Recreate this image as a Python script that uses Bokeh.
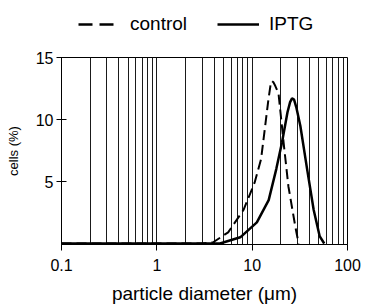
from bokeh.plotting import figure
from bokeh.layouts import column
from bokeh.models import Range1d, FixedTicker, Legend, LegendItem, ColumnDataSource
from bokeh.embed import file_html
from bokeh.resources import INLINE

# data
control_x = [0.1, 1, 3, 3.9, 5.6, 8.1, 10.6, 12.4, 13.7, 14.8, 15.6, 16.1, 16.7, 17.5, 18.9, 21.4, 24.0, 28.3, 30.7]
control_y = [0, 0, 0, 0.1, 0.9, 2.7, 4.9, 6.8, 9.5, 11.6, 12.8, 13.1, 13.0, 12.7, 12.1, 8.1, 4.6, 1.4, 0]
iptg_x = [0.1, 1, 4.6, 7.5, 11.2, 14.9, 17.9, 20.5, 23.5, 25.0, 26.2, 27.5, 29.0, 32.0, 37.7, 44.2, 51.0, 57.0]
iptg_y = [0, 0, 0, 0.5, 1.7, 3.5, 6.0, 8.1, 10.6, 11.4, 11.7, 11.6, 11.0, 9.5, 6.0, 2.7, 0.6, 0]
x_major = [0.1, 1, 10, 100]
x_tick_labels = {0.1: "0.1", 1: "1", 10: "10", 100: "100"}
y_major = [5, 10, 15]
series_names = ["control", "IPTG"]

FONT = "Liberation Sans"
W = 365
TOP_H = 44
MAIN_H = 262

# ---------- legend strip (its frame is aligned with the main frame by the column) ----------
leg = figure(width=W, height=TOP_H, x_range=Range1d(0, 1), y_range=Range1d(0, 1),
             x_axis_location=None, y_axis_location=None,
             output_backend="svg", toolbar_location=None,
             min_border=0, min_border_left=0, min_border_right=0,
             min_border_top=0, min_border_bottom=0)
leg.grid.visible = False
leg.outline_line_color = None
# single-point sources: a one-point line draws nothing, but gives the legend its style
r1 = leg.line("x", "y", source=ColumnDataSource(dict(x=[0], y=[0])),
              line_color="black", line_width=2.5, line_dash="14 7")
r2 = leg.line("x", "y", source=ColumnDataSource(dict(x=[0], y=[0])),
              line_color="black", line_width=2.5)
legend = Legend(items=[LegendItem(label=series_names[0], renderers=[r1]),
                       LegendItem(label=series_names[1], renderers=[r2])],
                orientation="horizontal", location=(17, 9),
                glyph_width=42, glyph_height=20, label_standoff=10, spacing=30,
                padding=0, margin=0, border_line_color=None,
                background_fill_alpha=0,
                label_text_font=FONT, label_text_font_size="19px",
                label_text_color="black")
leg.add_layout(legend, "center")

# ---------- main plot ----------
p = figure(width=W, height=MAIN_H, x_axis_type="log",
           x_range=Range1d(0.1, 100), y_range=Range1d(-0.08, 15),
           output_backend="svg", toolbar_location=None,
           min_border_left=61, min_border_right=18,
           min_border_top=13, min_border_bottom=62)

p.line(control_x, control_y, line_color="black", line_width=2, line_dash="10 5")
p.line(iptg_x, iptg_y, line_color="black", line_width=2.5)

# x axis
p.xaxis.ticker = FixedTicker(ticks=x_major)
p.xaxis.major_label_overrides = x_tick_labels
p.xaxis.minor_tick_line_color = None
p.xaxis.major_tick_in = 0
p.xaxis.major_tick_out = 6
p.xaxis.axis_label = "particle diameter (\u03bcm)"
p.xaxis.axis_label_text_font = FONT
p.xaxis.axis_label_text_font_size = "19px"
p.xaxis.axis_label_text_font_style = "normal"
p.xaxis.axis_label_standoff = 9
p.xaxis.major_label_standoff = 8
p.xaxis.major_label_text_font = FONT
p.xaxis.major_label_text_font_size = "16px"

# y axis
p.yaxis.ticker = FixedTicker(ticks=y_major)
p.yaxis.minor_tick_line_color = None
p.yaxis.major_tick_in = 5
p.yaxis.major_tick_out = 5
p.yaxis.axis_label = "cells (%)"
p.yaxis.axis_label_text_font = FONT
p.yaxis.axis_label_text_font_size = "13px"
p.yaxis.axis_label_text_font_style = "normal"
p.yaxis.axis_label_standoff = 12
p.yaxis.major_label_standoff = 3
p.yaxis.major_label_text_font = FONT
p.yaxis.major_label_text_font_size = "16px"

for ax in (p.xaxis, p.yaxis):
    ax.axis_line_color = "black"
    ax.major_tick_line_color = "black"
    ax.major_label_text_color = "black"
    ax.axis_label_text_color = "black"

# vertical grid lines at every log subdivision
grid_ticks = [m * d for d in (0.1, 1, 10) for m in range(2, 11)]
p.xgrid.ticker = FixedTicker(ticks=grid_ticks)
p.xgrid.grid_line_color = "#1a1a1a"
p.xgrid.grid_line_width = 1
p.ygrid.grid_line_color = None

p.outline_line_color = "black"
p.outline_line_width = 1
p.background_fill_color = "white"
p.border_fill_color = "white"

layout = column(leg, p, spacing=0)
open("out.html", "w").write(file_html(layout, INLINE))
